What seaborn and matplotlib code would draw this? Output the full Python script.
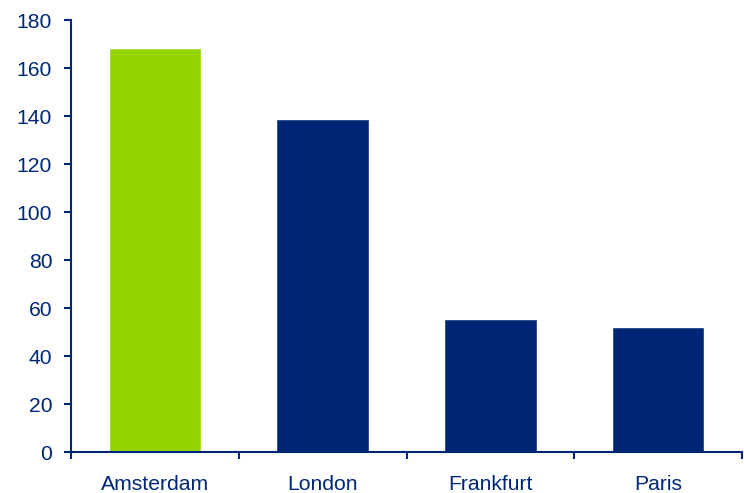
import numpy as np
import pandas as pd
import seaborn as sns
from matplotlib import pyplot as plt

cities = ["Amsterdam", "London", "Frankfurt", "Paris"]
values = [168.5, 138.7, 55.3, 52]
bar_colors = ["#94D400", "#002776", "#002776", "#002776"]

navy = "#002776"

sns.set_theme(style="white")
plt.rcParams["font.family"] = ["Liberation Sans", "DejaVu Sans"]

df = pd.DataFrame({"city": cities, "value": values})

fig = plt.figure(figsize=(7.44, 4.93), dpi=100)
ax = fig.add_axes([71 / 744, 41 / 493, 671 / 744, 432 / 493])

sns.barplot(data=df, x="city", y="value", hue="city", palette=bar_colors,
            width=0.55, saturation=1, legend=False, ax=ax)

ax.set_ylim(0, 180)
ax.set_xlim(-0.5, len(cities) - 0.5)
ax.set_yticks(np.arange(0, 181, 20))
ax.set_xlabel("")
ax.set_ylabel("")

# labels centred under bars, tick marks on category boundaries
ax.set_xticks(np.arange(len(cities)))
ax.set_xticklabels(cities)
ax.set_xticks(np.arange(len(cities) + 1) - 0.5, minor=True)
ax.tick_params(axis="x", which="major", length=0, pad=16.5, labelsize=15.2, labelcolor=navy)
ax.tick_params(axis="x", which="minor", length=5, width=1.5, color=navy, direction="out", bottom=True)
ax.tick_params(axis="y", length=5, width=1.5, color=navy, direction="out", left=True,
               pad=8.5, labelsize=15.2, labelcolor=navy)

for side in ["top", "right"]:
    ax.spines[side].set_visible(False)
for side in ["left", "bottom"]:
    ax.spines[side].set_color(navy)
    ax.spines[side].set_linewidth(1.5)

fig.savefig("out.png", dpi=100)
